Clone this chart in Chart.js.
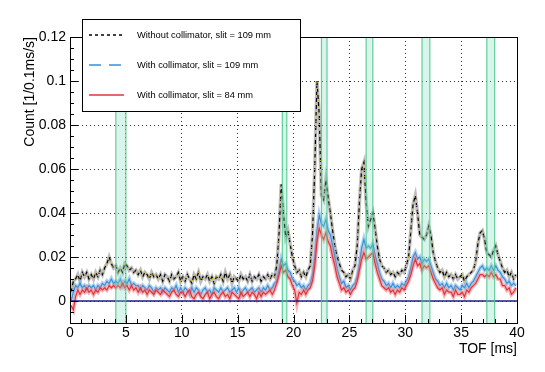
<!DOCTYPE html>
<html>
<head>
<meta charset="utf-8">
<script src="https://cdn.jsdelivr.net/npm/chart.js@4/dist/chart.umd.min.js"></script>
<style>
  html, body { margin: 0; padding: 0; background: #fff; }
  #wrap { width: 545px; height: 372px; }
</style>
</head>
<body>
<div id="wrap"><canvas id="tofChart" width="545" height="372"></canvas></div>
<script>
"use strict";

// bin width of the histograms [ms]
const BIN = 0.2;

// Without collimator, slit = 109 mm
const noColl109 = [
  0.004, 0.009, 0.010, 0.012, 0.009, 0.013, 0.011, 0.013, 0.010, 0.012,
  0.010, 0.013, 0.011, 0.014, 0.012, 0.015, 0.017, 0.020, 0.017, 0.015,
  0.016, 0.013, 0.015, 0.013, 0.017, 0.016, 0.014, 0.015, 0.013, 0.014,
  0.012, 0.014, 0.011, 0.013, 0.012, 0.010, 0.013, 0.011, 0.012, 0.010,
  0.012, 0.009, 0.012, 0.011, 0.009, 0.012, 0.010, 0.011, 0.013, 0.009,
  0.011, 0.009, 0.012, 0.010, 0.008, 0.012, 0.010, 0.013, 0.009, 0.011,
  0.010, 0.012, 0.009, 0.011, 0.008, 0.011, 0.010, 0.012, 0.009, 0.013,
  0.010, 0.012, 0.008, 0.011, 0.010, 0.009, 0.012, 0.010, 0.011, 0.009,
  0.012, 0.009, 0.011, 0.010, 0.012, 0.009, 0.011, 0.010, 0.012, 0.010,
  0.012, 0.011, 0.016, 0.030, 0.053, 0.040, 0.029, 0.032, 0.026, 0.020,
  0.016, 0.013, 0.014, 0.011, 0.013, 0.011, 0.014, 0.016, 0.030, 0.060,
  0.100, 0.085, 0.048, 0.046, 0.055, 0.047, 0.040, 0.032, 0.025, 0.020,
  0.017, 0.014, 0.013, 0.011, 0.012, 0.010, 0.014, 0.016, 0.025, 0.045,
  0.060, 0.063, 0.045, 0.034, 0.037, 0.040, 0.033, 0.025, 0.019, 0.016,
  0.015, 0.013, 0.014, 0.012, 0.013, 0.011, 0.013, 0.012, 0.014, 0.013,
  0.016, 0.020, 0.032, 0.044, 0.048, 0.040, 0.030, 0.029, 0.028, 0.030,
  0.034, 0.030, 0.022, 0.018, 0.015, 0.013, 0.014, 0.011, 0.013, 0.011,
  0.012, 0.010, 0.012, 0.010, 0.011, 0.012, 0.009, 0.011, 0.012, 0.013,
  0.014, 0.018, 0.026, 0.031, 0.032, 0.028, 0.022, 0.021, 0.020, 0.023,
  0.025, 0.021, 0.018, 0.015, 0.013, 0.014, 0.011, 0.013, 0.010, 0.012
];

// With collimator, slit = 109 mm
const coll109 = [
  0.000, 0.004, 0.007, 0.006, 0.008, 0.006, 0.007, 0.005, 0.007, 0.006,
  0.007, 0.005, 0.007, 0.006, 0.008, 0.007, 0.009, 0.008, 0.010, 0.008,
  0.009, 0.008, 0.010, 0.007, 0.009, 0.008, 0.010, 0.007, 0.008, 0.007,
  0.007, 0.005, 0.007, 0.006, 0.005, 0.007, 0.006, 0.004, 0.006, 0.005,
  0.006, 0.004, 0.006, 0.005, 0.004, 0.006, 0.005, 0.007, 0.004, 0.006,
  0.004, 0.006, 0.005, 0.003, 0.006, 0.004, 0.006, 0.005, 0.003, 0.005,
  0.006, 0.004, 0.005, 0.003, 0.006, 0.005, 0.004, 0.006, 0.004, 0.005,
  0.006, 0.004, 0.005, 0.006, 0.004, 0.006, 0.003, 0.005, 0.006, 0.004,
  0.005, 0.006, 0.004, 0.005, 0.006, 0.004, 0.006, 0.005, 0.007, 0.005,
  0.006, 0.008, 0.009, 0.014, 0.019, 0.016, 0.017, 0.014, 0.013, 0.010,
  0.009, 0.007, 0.008, 0.006, 0.007, 0.005, 0.007, 0.008, 0.012, 0.020,
  0.032, 0.039, 0.035, 0.034, 0.037, 0.032, 0.030, 0.025, 0.020, 0.015,
  0.011, 0.008, 0.009, 0.006, 0.007, 0.005, 0.007, 0.008, 0.011, 0.017,
  0.024, 0.028, 0.024, 0.025, 0.024, 0.026, 0.021, 0.017, 0.013, 0.010,
  0.009, 0.007, 0.008, 0.006, 0.008, 0.006, 0.007, 0.006, 0.008, 0.007,
  0.009, 0.011, 0.015, 0.020, 0.022, 0.019, 0.020, 0.017, 0.019, 0.018,
  0.019, 0.016, 0.013, 0.010, 0.009, 0.007, 0.008, 0.006, 0.008, 0.006,
  0.007, 0.005, 0.007, 0.006, 0.005, 0.007, 0.006, 0.008, 0.006, 0.008,
  0.009, 0.011, 0.013, 0.015, 0.016, 0.014, 0.015, 0.014, 0.016, 0.014,
  0.016, 0.014, 0.013, 0.011, 0.010, 0.008, 0.009, 0.007, 0.008, 0.007
];

// With collimator, slit = 84 mm
const coll84 = [
  -0.002, -0.004, 0.002, 0.005, 0.003, 0.005, 0.004, 0.006, 0.004, 0.005,
  0.003, 0.005, 0.004, 0.006, 0.005, 0.006, 0.005, 0.007, 0.006, 0.007,
  0.006, 0.007, 0.006, 0.008, 0.006, 0.007, 0.005, 0.007, 0.005, 0.006,
  0.004, 0.006, 0.004, 0.005, 0.003, 0.005, 0.004, 0.003, 0.005, 0.004,
  0.003, 0.005, 0.004, 0.003, 0.002, 0.004, 0.005, 0.003, 0.002, 0.004,
  0.004, 0.002, 0.004, 0.005, 0.002, 0.001, 0.003, 0.004, 0.002, 0.001,
  0.003, 0.004, 0.001, 0.003, 0.004, 0.002, 0.001, 0.003, 0.004, 0.002,
  0.003, 0.001, 0.004, 0.003, 0.002, 0.001, 0.004, 0.002, 0.003, 0.004,
  0.002, 0.004, 0.003, 0.001, 0.004, 0.002, 0.004, 0.003, 0.004, 0.005,
  0.003, 0.005, 0.008, 0.012, 0.016, 0.013, 0.014, 0.011, 0.010, 0.007,
  0.005, -0.001, 0.004, 0.003, 0.005, 0.003, 0.005, 0.006, 0.009, 0.016,
  0.027, 0.033, 0.030, 0.028, 0.031, 0.027, 0.025, 0.020, 0.016, 0.011,
  0.008, 0.005, 0.006, 0.004, 0.005, 0.003, 0.005, 0.006, 0.009, 0.014,
  0.019, 0.022, 0.019, 0.020, 0.021, 0.022, 0.017, 0.013, 0.010, 0.007,
  0.006, 0.005, 0.006, 0.004, 0.005, 0.003, 0.005, 0.004, 0.006, 0.005,
  0.007, 0.009, 0.012, 0.016, 0.019, 0.016, 0.017, 0.014, 0.016, 0.015,
  0.016, 0.013, 0.010, 0.008, 0.006, 0.005, 0.006, 0.003, 0.005, 0.004,
  0.004, 0.002, 0.005, 0.003, 0.003, 0.004, 0.002, 0.005, 0.004, 0.006,
  0.007, 0.008, 0.010, 0.012, 0.012, 0.011, 0.012, 0.011, 0.013, 0.011,
  0.012, 0.010, 0.010, 0.007, 0.007, 0.005, 0.006, 0.003, 0.004, 0.006
];

const xTicks = [0, 5, 10, 15, 20, 25, 30, 35, 40];
const yTicks = [0, 0.02, 0.04, 0.06, 0.08, 0.1, 0.12];
// shaded TOF windows [ms]
const bands = [[4.1, 5.0], [19.0, 19.4], [22.5, 23.0], [26.5, 27.1], [31.5, 32.2], [37.3, 38.0]];
const legendLabels = [
  'Without collimator, slit = 109 mm',
  'With collimator, slit = 109 mm',
  'With collimator, slit = 84 mm'
];

const FONT = '"Liberation Sans", Arial, Helvetica, sans-serif';
const BLUE = '#3a8fd6';
const RED  = '#e0353a';

const toXY = arr => arr.map((v, i) => ({ x: (i + 0.5) * BIN, y: v }));

function line(data, color, width, dash, order) {
  return {
    data: toXY(data), borderColor: color, borderWidth: width,
    borderDash: dash || [], pointRadius: 0, tension: 0, fill: false, order
  };
}

// ROOT-like decorations: bands, frame, ticks, zero line, titles, legend
const rootStyle = {
  id: 'rootStyle',
  afterDatasetsDraw(chart) {
    const { ctx, chartArea: a, scales: { x, y } } = chart;
    ctx.save();

    // zero line
    ctx.strokeStyle = '#1c1c8c';
    ctx.lineWidth = 1.5;
    ctx.beginPath();
    ctx.moveTo(a.left, y.getPixelForValue(0));
    ctx.lineTo(a.right, y.getPixelForValue(0));
    ctx.stroke();

    // shaded windows
    bands.forEach(([lo, hi]) => {
      const x0 = x.getPixelForValue(lo), x1 = x.getPixelForValue(hi);
      ctx.fillStyle = 'rgba(130, 220, 185, 0.3)';
      ctx.fillRect(x0, a.top, x1 - x0, a.bottom - a.top);
      ctx.strokeStyle = 'rgba(70, 200, 140, 0.85)';
      ctx.lineWidth = 1.2;
      ctx.beginPath();
      ctx.moveTo(x0, a.top); ctx.lineTo(x0, a.bottom);
      ctx.moveTo(x1, a.top); ctx.lineTo(x1, a.bottom);
      ctx.stroke();
    });

    // frame
    ctx.strokeStyle = '#000';
    ctx.lineWidth = 1;
    ctx.strokeRect(Math.round(a.left) + 0.5, Math.round(a.top) + 0.5,
      Math.round(a.right - a.left), Math.round(a.bottom - a.top));

    // ticks (inside the frame)
    ctx.beginPath();
    for (let v = 0; v <= 40; v += 1) {
      const px = Math.round(x.getPixelForValue(v)) + 0.5;
      const len = v % 5 === 0 ? 8 : 4;
      ctx.moveTo(px, a.bottom); ctx.lineTo(px, a.bottom - len);
    }
    for (let k = -2; k <= 24; k++) {
      const py = Math.round(y.getPixelForValue(k * 0.005)) + 0.5;
      if (py < a.top || py > a.bottom) continue;
      const len = k % 4 === 0 ? 8 : 4;
      ctx.moveTo(a.left, py); ctx.lineTo(a.left + len, py);
    }
    ctx.stroke();

    // axis titles
    ctx.fillStyle = '#000';
    ctx.font = '14px ' + FONT;
    ctx.textAlign = 'right';
    ctx.textBaseline = 'alphabetic';
    ctx.fillText('TOF [ms]', a.right, 353);
    ctx.save();
    ctx.translate(34, a.top);
    ctx.rotate(-Math.PI / 2);
    ctx.fillText('Count [1/0.1ms/s]', 0, 0);
    ctx.restore();

    // legend
    const L = { l: 82, t: 19, r: 300, b: 111 };
    ctx.fillStyle = '#fff';
    ctx.fillRect(L.l, L.t, L.r - L.l, L.b - L.t);
    ctx.strokeStyle = '#000';
    ctx.lineWidth = 1;
    ctx.strokeRect(L.l + 0.5, L.t + 0.5, L.r - L.l, L.b - L.t);
    const styles = [
      { c: '#000000', d: [3, 3] },
      { c: BLUE, d: [12, 8] },
      { c: RED, d: [] }
    ];
    ctx.font = '9.3px ' + FONT;
    ctx.textAlign = 'left';
    ctx.textBaseline = 'middle';
    legendLabels.forEach((txt, i) => {
      const ly = 35 + i * 30;
      ctx.lineWidth = 1.3;
      ctx.strokeStyle = styles[i].c;
      ctx.setLineDash(styles[i].d);
      ctx.beginPath();
      ctx.moveTo(89, ly); ctx.lineTo(124, ly);
      ctx.stroke();
      ctx.setLineDash([]);
      ctx.fillStyle = '#000';
      ctx.fillText(txt, 137, ly);
    });

    ctx.restore();
  }
};

new Chart(document.getElementById('tofChart'), {
  type: 'line',
  data: {
    datasets: [
      // error-bar like halos
      line(noColl109, 'rgba(70, 70, 70, 0.35)', 3.5, [], 10),
      line(coll109, 'rgba(110, 175, 235, 0.55)', 4, [], 8),
      line(coll84, 'rgba(240, 120, 125, 0.55)', 4, [], 6),
      // central values
      line(noColl109, '#c8b030', 1.2, [1, 5], 9),
      line(noColl109, '#000', 1.2, [4, 3], 9),
      line(coll109, BLUE, 1.2, [], 7),
      line(coll84, RED, 1.2, [], 5)
    ]
  },
  options: {
    responsive: false,
    animation: false,
    devicePixelRatio: 1,
    layout: { padding: { top: 37, right: 28, left: 0, bottom: 0 } },
    plugins: { legend: { display: false }, tooltip: { enabled: false } },
    scales: {
      x: {
        type: 'linear', min: 0, max: 40,
        afterBuildTicks: s => { s.ticks = xTicks.map(v => ({ value: v })); },
        afterFit: s => { s.height = 49; },
        ticks: { color: '#000', font: { family: FONT, size: 14 }, padding: 2, maxRotation: 0, autoSkip: false },
        grid: { color: '#000', lineWidth: 0.8, drawTicks: false },
        border: { display: false, dash: [1, 3] }
      },
      y: {
        type: 'linear', min: -0.01, max: 0.12,
        afterBuildTicks: s => { s.ticks = yTicks.map(v => ({ value: v })); },
        afterFit: s => { s.width = 70; },
        ticks: {
          color: '#000', font: { family: FONT, size: 14 }, padding: 4,
          callback: v => String(+v.toFixed(2))
        },
        grid: { color: '#000', lineWidth: 0.8, drawTicks: false },
        border: { display: false, dash: [1, 3] }
      }
    }
  },
  plugins: [rootStyle]
});
</script>
</body>
</html>
